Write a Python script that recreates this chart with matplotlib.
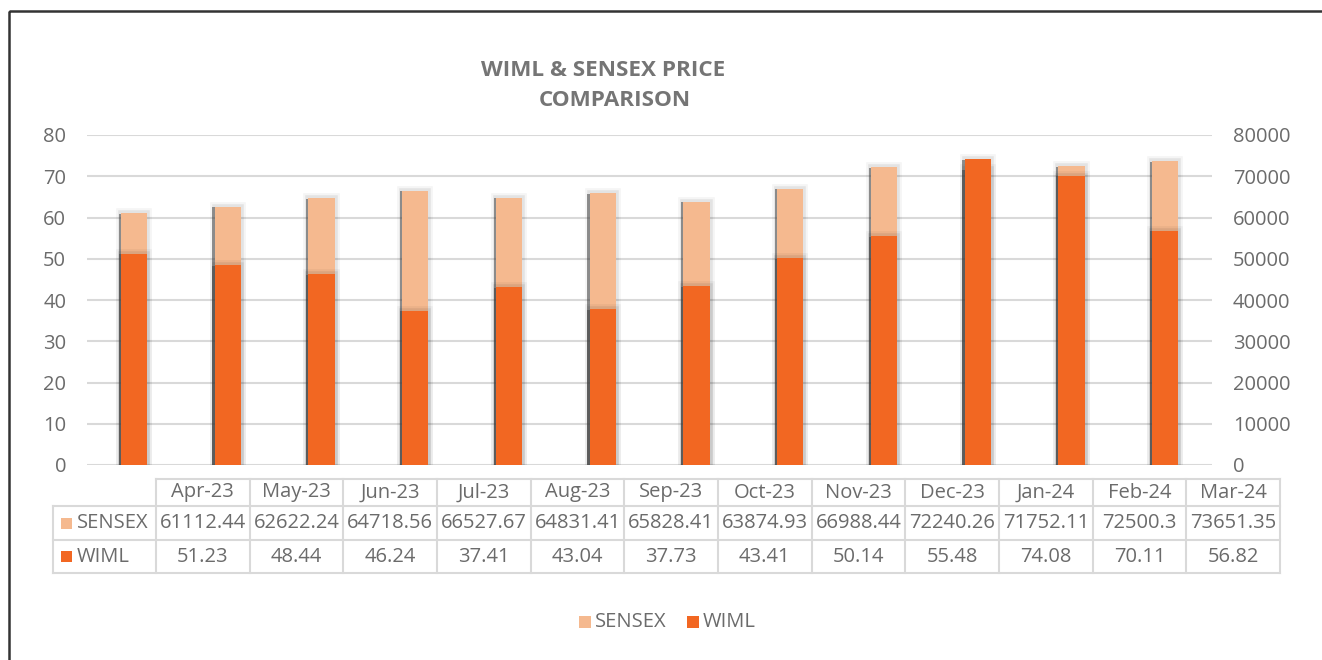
"""WIML & SENSEX price comparison — Excel-style bar chart with data table."""

import matplotlib
matplotlib.use("Agg")
import matplotlib.pyplot as plt
import matplotlib.patheffects as pe
from matplotlib.patches import Rectangle

months = ["Apr-23", "May-23", "Jun-23", "Jul-23", "Aug-23", "Sep-23",
          "Oct-23", "Nov-23", "Dec-23", "Jan-24", "Feb-24", "Mar-24"]
sensex = [61112.44, 62622.24, 64718.56, 66527.67, 64831.41, 65828.41,
          63874.93, 66988.44, 72240.26, 71752.11, 72500.3, 73651.35]
wiml = [51.23, 48.44, 46.24, 37.41, 43.04, 37.73,
        43.41, 50.14, 55.48, 74.08, 70.11, 56.82]
sensex_labels = ["61112.44", "62622.24", "64718.56", "66527.67", "64831.41", "65828.41",
                 "63874.93", "66988.44", "72240.26", "71752.11", "72500.3", "73651.35"]
wiml_labels = ["51.23", "48.44", "46.24", "37.41", "43.04", "37.73",
               "43.41", "50.14", "55.48", "74.08", "70.11", "56.82"]
left_ticks = [0, 10, 20, 30, 40, 50, 60, 70, 80]
right_ticks = [0, 10000, 20000, 30000, 40000, 50000, 60000, 70000, 80000]

C_SENSEX = "#F5B98F"
C_WIML = "#F26722"
C_TEXT = "#6B6B6B"
C_GRID = "#D9D9D9"

plt.rcParams["font.family"] = ["Open Sans", "DejaVu Sans"]

W, H = 1322, 660
fig = plt.figure(figsize=(W / 100, H / 100), dpi=100)


def px_box(x0, y0, x1, y1):
    # pixel box (top-left origin) -> figure fraction [l, b, w, h]
    return [x0 / W, 1 - y1 / H, (x1 - x0) / W, (y1 - y0) / H]


ax = fig.add_axes(px_box(87, 135, 1212, 465))
ax2 = ax.twinx()
x = list(range(len(months)))
# soft shadow: faint halo + darker offset edge on the left
shadow = [pe.Stroke(linewidth=7, foreground="#000000", alpha=0.04),
          pe.Stroke(linewidth=4, foreground="#000000", alpha=0.07),
          pe.SimplePatchShadow(offset=(-1.5, -0.5), shadow_rgbFace="#444444", alpha=0.55),
          pe.Normal()]

ax2.bar(x, sensex, width=0.28, color=C_SENSEX, path_effects=shadow, zorder=3)
ax.bar(x, wiml, width=0.28, color=C_WIML, path_effects=shadow, zorder=3)

ax.set_zorder(ax2.get_zorder() + 1)
ax.patch.set_visible(False)

ax.set_xlim(-0.5, len(months) - 0.5)
ax.set_ylim(0, 80)
ax2.set_ylim(0, 80000)
ax.set_yticks(left_ticks)
ax2.set_yticks(right_ticks)
ax.set_xticks([])
for a in (ax, ax2):
    for s in a.spines.values():
        s.set_visible(False)
    a.tick_params(axis="y", length=0, labelsize=14.5, labelcolor=C_TEXT, pad=15)
ax2.grid(False)
for t in left_ticks:
    ax2.axhline(t * 1000, color=C_GRID, lw=1.5, zorder=0)

# title
fig.text(603 / W, 1 - 70 / H, "WIML & SENSEX PRICE", ha="center", va="center",
         fontsize=16.2, fontweight="bold", color="#757575")
fig.text(615 / W, 1 - 101 / H, "COMPARISON", ha="center", va="center",
         fontsize=16.2, fontweight="bold", color="#757575")

# data table
tab = fig.add_axes([0, 0, 1, 1])
tab.set_xlim(0, W)
tab.set_ylim(H, 0)
tab.axis("off")
tab.patch.set_visible(False)

col0, col_w = 156, (1280 - 156) / len(months)
head_left = 53
y_top, y_r1, y_r2, y_bot = 479, 506, 540, 573
lk = dict(color=C_GRID, lw=1.5)
tab.plot([col0, col0 + col_w * len(months)], [y_top, y_top], **lk)
for yy in (y_r1, y_r2, y_bot):
    tab.plot([head_left, col0 + col_w * len(months)], [yy, yy], **lk)
tab.plot([head_left, head_left], [y_r1, y_bot], **lk)
for i in range(len(months) + 1):
    xx = col0 + col_w * i
    tab.plot([xx, xx], [y_top, y_bot], **lk)

tk = dict(ha="center", va="center", fontsize=14.5, color=C_TEXT)
for i, m in enumerate(months):
    cx = col0 + col_w * (i + 0.5)
    tab.text(cx, (y_top + y_r1) / 2, m, **tk)
    tab.text(cx, (y_r1 + y_r2) / 2, sensex_labels[i], **tk)
    tab.text(cx, (y_r2 + y_bot) / 2, wiml_labels[i], **tk)

for name, col, yc in (("SENSEX", C_SENSEX, (y_r1 + y_r2) / 2),
                      ("WIML", C_WIML, (y_r2 + y_bot) / 2)):
    tab.add_patch(Rectangle((61, yc - 5.5), 11, 11, color=col, lw=0))
    tab.text(77, yc, name, ha="left", va="center", fontsize=14.5, color=C_TEXT)

# legend
for name, col, x0 in (("SENSEX", C_SENSEX, 579), ("WIML", C_WIML, 687)):
    tab.add_patch(Rectangle((x0, 616), 12, 12, color=col, lw=0))
    tab.text(x0 + 16, 622, name, ha="left", va="center", fontsize=14.5, color=C_TEXT)

# outer border (continues past right and bottom edges)
tab.add_patch(Rectangle((8.5, 10.5), W + 20, H + 20, fill=False, ec="#333333", lw=1.8))

fig.savefig("out.png", dpi=100)
